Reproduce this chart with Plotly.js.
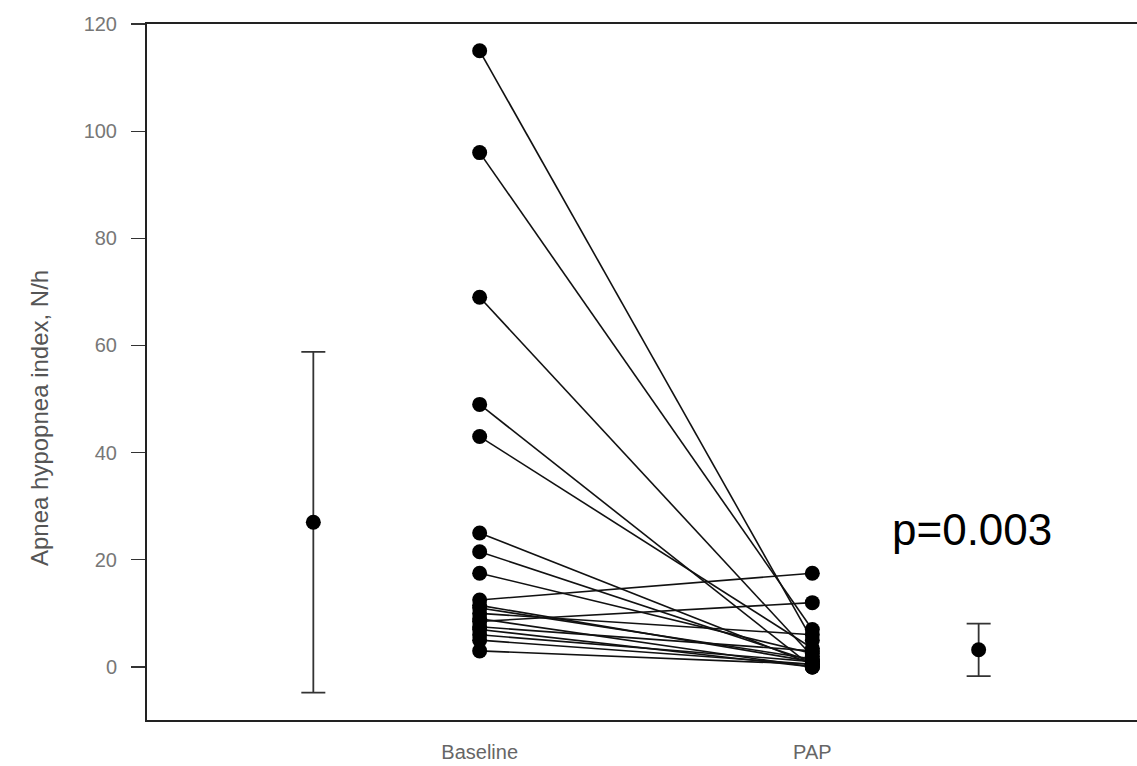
<!DOCTYPE html>
<html>
<head>
<meta charset="utf-8">
<script src="https://cdn.plot.ly/plotly-3.0.1.min.js"></script>
<style>html,body{margin:0;padding:0;background:#fff;}#chart{width:1137px;height:766px;}</style>
</head>
<body>
<div id="chart"></div>
<script>
// Paired subject values (N/h)
const baseline = [115, 96, 69, 49, 43, 25, 21.5, 17.5, 12.5, 11, 11.5, 10, 9, 8.5, 7.5, 7, 6, 5, 3];
const pap      = [5, 7, 2, 0, 3.5, 0.5, 1, 2.5, 17.5, 1.5, 1, 6, 0, 12, 3, 0, 1, 0.5, 0.5];
const groupLabels = ["Baseline", "PAP"];
const groupPos = [1, 2];
// Summary (mean ± SD) shown beside each group
const summaryPos = [0.5, 2.5];
const summaryMean = [27, 3.2];
const summarySD = [31.8, 4.9];
const pText = "p=0.003";
const yTitle = "Apnea hypopnea index, N/h";

const traces = [];
for (let i = 0; i < baseline.length; i++) {
  traces.push({
    type: "scatter", mode: "lines+markers",
    x: groupPos, y: [baseline[i], pap[i]],
    line: {color: "#111", width: 1.6},
    marker: {color: "#000", size: 15},
    showlegend: false, hoverinfo: "y"
  });
}
traces.push({
  type: "scatter", mode: "markers",
  x: summaryPos, y: summaryMean,
  marker: {color: "#000", size: 15},
  error_y: {type: "data", array: summarySD, visible: true, color: "#333", thickness: 1.8, width: 12},
  showlegend: false
});

const layout = {
  width: 1137, height: 766,
  margin: {l: 147, r: 0, t: 24, b: 46},
  paper_bgcolor: "#fff", plot_bgcolor: "#fff",
  font: {family: "Liberation Sans, Arial, sans-serif", color: "#555"},
  xaxis: {
    range: [0, 2.976], tickvals: groupPos, ticktext: groupLabels,
    showgrid: false, zeroline: false, showline: true, mirror: true,
    linecolor: "#222", linewidth: 2, ticks: "", ticklabelstandoff: 13,
    tickfont: {size: 20, color: "#666"}
  },
  yaxis: {
    range: [-9.9, 120], tickvals: [0, 20, 40, 60, 80, 100, 120],
    showgrid: false, zeroline: false, showline: true,
    linecolor: "#222", linewidth: 2, ticks: "outside", ticklen: 14, tickwidth: 1.2, tickcolor: "#333",
    ticklabelstandoff: 10,
    tickfont: {size: 20, color: "#777"}
  },
  annotations: [
    {
      x: 2.48, y: 25.6, xref: "x", yref: "y", text: pText, showarrow: false,
      font: {size: 44, color: "#000", family: "Liberation Sans, Arial, sans-serif"}
    },
    {
      x: -0.108, y: 0.434, xref: "paper", yref: "paper", text: yTitle, showarrow: false,
      textangle: -90, xanchor: "center", yanchor: "middle",
      font: {size: 24, color: "#555", family: "Liberation Sans, Arial, sans-serif"}
    }
  ]
};
Plotly.newPlot("chart", traces, layout, {displayModeBar: false, staticPlot: true});
</script>
</body>
</html>
